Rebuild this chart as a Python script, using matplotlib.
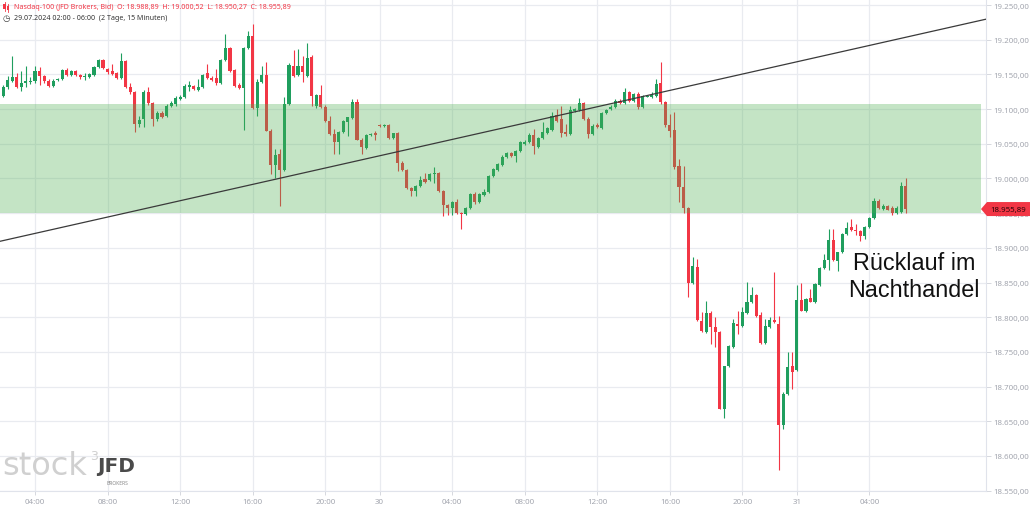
import matplotlib
matplotlib.use("Agg")
import matplotlib.pyplot as plt
from matplotlib.patches import Rectangle, Polygon
from matplotlib.lines import Line2D
from matplotlib.transforms import blended_transform_factory
import numpy as np

plt.rcParams['font.family'] = ['Noto Sans', 'DejaVu Sans']

# Nasdaq-100, 15-Minuten-Kerzen; Kerze 0 = 29.07. 04:00
first_bar = -8
opens = [
    19090, 19119, 19132, 19140, 19146, 19132, 19137, 19139,
    19140, 19155, 19148, 19140, 19133, 19142, 19143, 19156, 19149, 19155,
    19149, 19146, 19146, 19149, 19161, 19171, 19158, 19155, 19152, 19145,
    19169, 19132, 19125, 19078, 19086, 19125, 19109, 19086, 19094, 19090,
    19104, 19107, 19115, 19117, 19132, 19133, 19128, 19132, 19152, 19145,
    19145, 19138, 19171, 19188, 19156, 19135, 19130, 19188, 19205, 19102,
    19139, 19149, 19069, 19019, 19035, 19012, 19107, 19162, 19149, 19162,
    19148, 19175, 19104, 19120, 19103, 19083, 19064, 19053, 19067, 19081,
    19087, 19110, 19056, 19044, 19063, 19065, 19077, 19076, 19077, 19058,
    19065, 19022, 19012, 18986, 18982, 18989, 18999, 18998, 19006, 19008,
    18982, 18962, 18957, 18966, 18950, 18949, 18957, 18978, 18966, 18976,
    18980, 19004, 19012, 19019, 19031, 19037, 19032, 19039, 19050, 19053,
    19063, 19045, 19058, 19066, 19070, 19091, 19086, 19067, 19064, 19097,
    19099, 19109, 19086, 19064, 19077, 19073, 19094, 19100, 19103, 19112,
    19109, 19125, 19112, 19122, 19103, 19118, 19117, 19119, 19137, 19110,
    19077, 19070, 19018, 18988, 18957, 18849, 18872, 18795, 18779, 18806,
    18786, 18779, 18668, 18730, 18757, 18790, 18787, 18806, 18822, 18832,
    18803, 18763, 18786, 18796, 18790, 18645, 18689, 18730, 18724, 18825,
    18809, 18828, 18822, 18846, 18871, 18882, 18911, 18881, 18894, 18920,
    18930, 18926, 18924, 18917, 18930, 18943, 18967, 18956, 18960, 18958,
    18950, 18952, 18988.89,
]
highs = [
    19125, 19135, 19148, 19176, 19152, 19155, 19162, 19146,
    19162, 19161, 19149, 19143, 19143, 19145, 19158, 19159, 19156, 19156,
    19151, 19152, 19152, 19162, 19172, 19172, 19159, 19165, 19153, 19181,
    19171, 19138, 19126, 19090, 19127, 19132, 19110, 19097, 19097, 19107,
    19112, 19119, 19120, 19136, 19140, 19135, 19143, 19151, 19165, 19148,
    19158, 19172, 19208, 19189, 19158, 19138, 19189, 19212, 19223, 19143,
    19162, 19168, 19071, 19042, 19042, 19117, 19166, 19185, 19187, 19177,
    19195, 19178, 19121, 19135, 19106, 19090, 19071, 19068, 19084, 19089,
    19114, 19114, 19058, 19064, 19065, 19068, 19079, 19079, 19079, 19066,
    19067, 19025, 19014, 18988, 18990, 19004, 19008, 19008, 19017, 19009,
    18983, 18963, 18967, 18970, 18952, 18959, 18979, 18980, 18979, 18985,
    19005, 19015, 19022, 19034, 19038, 19038, 19041, 19054, 19055, 19065,
    19071, 19060, 19081, 19074, 19096, 19100, 19104, 19078, 19104, 19102,
    19116, 19110, 19089, 19078, 19080, 19096, 19100, 19106, 19115, 19115,
    19130, 19126, 19123, 19125, 19120, 19120, 19125, 19143, 19168, 19111,
    19093, 19096, 19028, 19018, 18959, 18887, 18884, 18808, 18823, 18809,
    18800, 18780, 18730, 18760, 18797, 18809, 18815, 18851, 18844, 18834,
    18807, 18797, 18800, 18865, 18802, 18692, 18750, 18750, 18847, 18849,
    18827, 18841, 18849, 18872, 18891, 18927, 18927, 18894, 18921, 18937,
    18942, 18934, 18926, 18931, 18944, 18972, 18970, 18963, 18962, 18960,
    18960, 18995, 19000.52,
]
lows = [
    19089, 19117, 19129, 19139, 19130, 19126, 19132, 19136,
    19138, 19135, 19138, 19132, 19132, 19140, 19142, 19148, 19148, 19148,
    19143, 19142, 19145, 19148, 19159, 19158, 19151, 19149, 19143, 19143,
    19130, 19122, 19067, 19074, 19074, 19106, 19076, 19083, 19087, 19088,
    19103, 19104, 19113, 19116, 19126, 19127, 19126, 19130, 19143, 19140,
    19135, 19136, 19169, 19153, 19132, 19129, 19070, 19187, 19100, 19090,
    19137, 19068, 19006, 19001, 18960, 19011, 19106, 19146, 19148, 19139,
    19146, 19104, 19102, 19101, 19082, 19063, 19035, 19035, 19066, 19061,
    19086, 19055, 19035, 19042, 19061, 19055, 19074, 19074, 19057, 19057,
    19011, 19011, 18985, 18975, 18975, 18988, 18993, 18996, 18993, 18980,
    18946, 18948, 18948, 18949, 18927, 18947, 18956, 18963, 18965, 18975,
    18979, 19002, 19011, 19018, 19030, 19031, 19024, 19038, 19048, 19051,
    19035, 19044, 19057, 19064, 19068, 19081, 19060, 19061, 19063, 19096,
    19097, 19084, 19058, 19063, 19073, 19071, 19093, 19099, 19101, 19107,
    19107, 19110, 19110, 19100, 19102, 19117, 19116, 19117, 19108, 19074,
    19060, 19014, 18966, 18950, 18829, 18848, 18795, 18779, 18777, 18761,
    18757, 18667, 18655, 18728, 18756, 18776, 18786, 18805, 18820, 18800,
    18761, 18762, 18784, 18792, 18580, 18639, 18688, 18696, 18722, 18809,
    18807, 18822, 18821, 18845, 18869, 18868, 18881, 18867, 18893, 18918,
    18924, 18918, 18910, 18913, 18929, 18942, 18956, 18955, 18955, 18947,
    18949, 18950, 18950.27,
]
closes = [
    19122, 19132, 19142, 19146, 19132, 19137, 19140, 19140,
    19155, 19148, 19140, 19133, 19140, 19143, 19156, 19149, 19155, 19149,
    19146, 19148, 19151, 19161, 19171, 19159, 19153, 19151, 19145, 19169,
    19132, 19125, 19078, 19084, 19125, 19109, 19086, 19094, 19088, 19104,
    19109, 19116, 19117, 19133, 19134, 19129, 19132, 19149, 19145, 19142,
    19138, 19171, 19188, 19155, 19133, 19130, 19188, 19205, 19102, 19139,
    19149, 19069, 19019, 19034, 19012, 19107, 19164, 19148, 19162, 19153,
    19174, 19119, 19120, 19103, 19083, 19064, 19053, 19067, 19083, 19088,
    19110, 19056, 19045, 19063, 19064, 19063, 19076, 19077, 19058, 19065,
    19022, 19012, 18986, 18982, 18989, 18998, 18995, 19006, 19008, 18982,
    18962, 18957, 18966, 18950, 18949, 18957, 18978, 18966, 18978, 18980,
    19004, 19014, 19021, 19031, 19037, 19032, 19039, 19053, 19053, 19063,
    19047, 19058, 19067, 19073, 19090, 19083, 19066, 19064, 19099, 19100,
    19109, 19086, 19064, 19075, 19074, 19094, 19099, 19103, 19112, 19109,
    19125, 19112, 19122, 19103, 19119, 19119, 19120, 19136, 19110, 19077,
    19068, 19017, 18988, 18957, 18849, 18874, 18796, 18780, 18806, 18786,
    18779, 18668, 18730, 18758, 18792, 18787, 18807, 18822, 18832, 18802,
    18763, 18787, 18796, 18793, 18645, 18689, 18728, 18721, 18825, 18809,
    18826, 18822, 18848, 18871, 18882, 18911, 18882, 18894, 18920, 18929,
    18926, 18924, 18917, 18930, 18943, 18967, 18958, 18960, 18955, 18950,
    18957, 18989, 18955.89,
]

tick_pos = [0, 16, 32, 48, 64, 76, 92, 108, 124, 140, 156, 168, 184]
tick_labels = ["04:00", "08:00", "12:00", "16:00", "20:00", "30", "04:00",
               "08:00", "12:00", "16:00", "20:00", "31", "04:00"]
price_ticks = list(range(18550, 19251, 50))
zone_low, zone_high = 18950, 19108
trend_a = (-8, 18909)
trend_b = (210, 19230)
last_price = 18955.89

GREEN = '#1f9e5e'
RED = '#f23645'

W, H = 1030, 510
fig = plt.figure(figsize=(W / 100, H / 100), dpi=100)
ax = fig.add_axes([0, 18 / H, 986 / W, 492 / H])
ax.set_xlim(-7.72, 209.7)
ax.set_ylim(18549.5, 19258.65)

# Kerzen
x = np.arange(first_bar, first_bar + len(closes))
o = np.array(opens, float)
c = np.array(closes, float)
up = c >= o
cols = np.where(up, GREEN, RED)
ax.vlines(x, lows, highs, colors=cols, lw=0.8, zorder=2)
ax.bar(x, np.maximum(np.abs(c - o), 1.2), bottom=np.minimum(o, c), width=0.68,
       color=cols, lw=0, zorder=3)

# Zone + Trendlinie
ax.add_patch(Rectangle((0, zone_low), 981 / 986, zone_high - zone_low,
                       transform=ax.get_yaxis_transform(), facecolor='#4caf50',
                       alpha=0.33, lw=0, zorder=4))
ax.axline(trend_a, trend_b, color='#3a3a3a', lw=0.9, zorder=5)

# Achsen
def de_fmt(v):
    return f"{v:,.2f}".replace(",", "X").replace(".", ",").replace("X", ".")

ax.set_yticks(price_ticks, [de_fmt(v) for v in price_ticks])
ax.set_xticks(tick_pos, tick_labels)
ax.grid(True, color='#e9ebf0', lw=0.9)
ax.set_axisbelow(True)
ax.tick_params(axis='y', left=False, labelleft=False, right=True, labelright=True,
               length=3.5, width=0.7, color='#d6d8de', labelsize=5.7,
               labelcolor='#a3a6af', pad=2)
ax.tick_params(axis='x', length=3, width=0.7, color='#d6d8de', labelsize=5.7,
               labelcolor='#a3a6af', pad=2)
for s in ['top', 'left']:
    ax.spines[s].set_visible(False)
for s in ['right', 'bottom']:
    ax.spines[s].set_color('#e0e3eb')
    ax.spines[s].set_linewidth(0.8)

# Kurs-Label rechts
tr = blended_transform_factory(fig.transFigure, ax.transData)
hh = 10.1
fig.add_artist(Polygon([(981 / W, last_price), (987 / W, last_price + hh),
                        (1030 / W, last_price + hh), (1030 / W, last_price - hh),
                        (987 / W, last_price - hh)], closed=True, transform=tr,
                       facecolor=RED, lw=0, zorder=10))
fig.text(1008 / W, last_price, de_fmt(last_price), transform=tr, ha='center',
         va='center', fontsize=5.7, color='#2a0508', zorder=11)

# Kopfzeile
for cx, top, bot, b1, b2 in [(4.5, 3, 12, 5, 10), (8.0, 5, 13, 7, 11)]:
    fig.add_artist(Line2D([cx / W] * 2, [1 - top / H, 1 - bot / H], color=RED, lw=0.6))
    fig.add_artist(Rectangle((cx / W - 1.2 / W, 1 - b2 / H), 2.4 / W, (b2 - b1) / H,
                             transform=fig.transFigure, facecolor=RED, lw=0))
fig.text(14 / W, 1 - 8 / H,
         "Nasdaq-100 (JFD Brokers, Bid)  O: 18.988,89  H: 19.000,52  L: 18.950,27  C: 18.955,89",
         fontsize=5.1, color=RED, va='center')
fig.text(6 / W, 1 - 18.5 / H, "◷", fontsize=6, color='#333333', va='center',
         ha='center', family=['DejaVu Sans'])
fig.text(14 / W, 1 - 18.5 / H, "29.07.2024 02:00 - 06:00  (2 Tage, 15 Minuten)",
         fontsize=5.1, color='#333333', va='center')

# Kommentar
fig.text(914 / W, 1 - 277 / H, "Rücklauf im\nNachthandel", ha='center', va='center',
         fontsize=16.8, family=['Liberation Sans'], color='#111111', linespacing=1.27,
         zorder=12)

# Wasserzeichen
fig.text(2 / W, 1 - 467 / H, "stock", fontsize=23, color='#d0d0d0', va='center',
         family=['DejaVu Sans'])
fig.text(90 / W, 1 - 456 / H, "3", fontsize=9, color='#d0d0d0', va='center',
         family=['DejaVu Sans'])
fig.text(97 / W, 1 - 467 / H, "JFD", fontsize=14.5, color='#4a4a4a', va='center',
         fontweight='bold', family=['DejaVu Sans'])
fig.text(117 / W, 1 - 484 / H, "BROKERS", fontsize=3.6, color='#8a8a8a', va='center',
         ha='center')

fig.savefig("out.png", dpi=100)
